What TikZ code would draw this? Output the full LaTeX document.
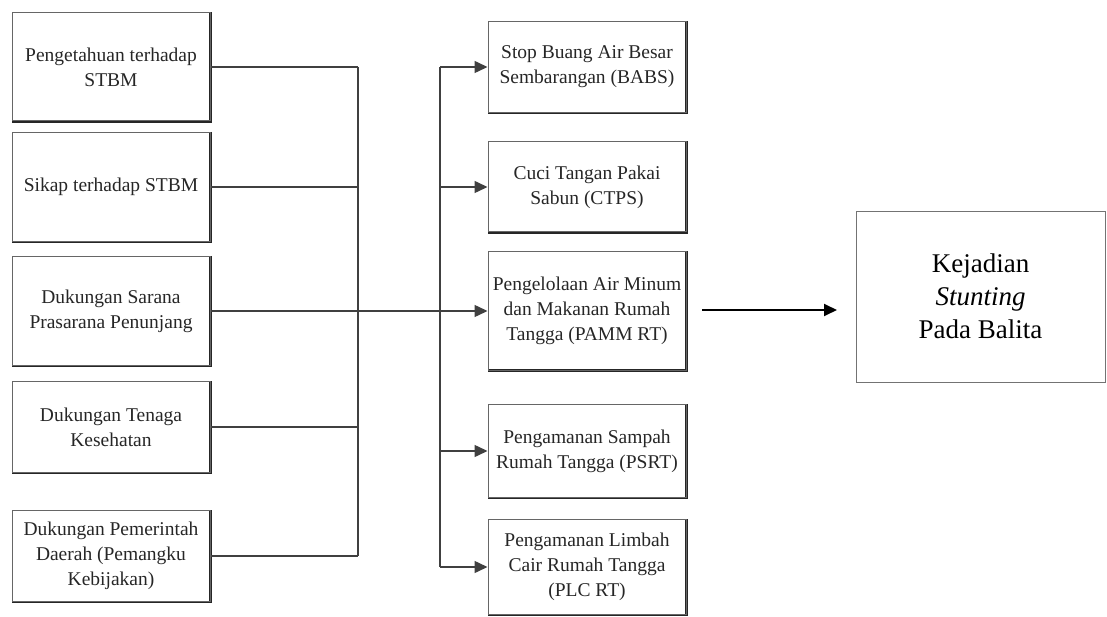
\documentclass[tikz,border=0pt]{standalone}
\usepackage{fontspec}
\setmainfont{Liberation Serif}
\usetikzlibrary{arrows.meta}

\tikzset{
  kotak/.style={draw=black!60, line width=1pt, minimum width=198pt, inner sep=0pt,
    align=center, text=black!85, font=\fontsize{19.5}{25}\selectfont,
    append after command={\pgfextra{\draw[line width=2.4pt, black!85]
      (\tikzlastnode.north east) -- (\tikzlastnode.south east) -- (\tikzlastnode.south west);}}},
  hasilbox/.style={draw=black!55, line width=0.9pt, inner sep=0pt, align=center,
    font=\fontsize{27}{33}\selectfont},
  garis/.style={line width=1.5pt, black!75},
  panah/.style={garis, -{Triangle[length=13pt,width=12pt]}}
}

\begin{document}
\begin{tikzpicture}[x=1pt, y=-1pt]
            \useasboundingbox (0,0) rectangle (1107,617);

            % Left column (factors)
            \node[kotak, minimum height=108pt] (p1) at (111,67) {Pengetahuan terhadap\\STBM};
            \node[kotak, minimum height=109pt] (p2) at (111,187) {Sikap terhadap STBM};
            \node[kotak, minimum height=109pt] (p3) at (111,311) {Dukungan Sarana\\Prasarana Penunjang};
            \node[kotak, minimum height=91pt] (p4) at (111,427) {Dukungan Tenaga\\Kesehatan};
            \node[kotak, minimum height=91pt] (p5) at (111,556) {Dukungan Pemerintah\\Daerah (Pemangku\\Kebijakan)};

            % Middle column (pillars)
            \node[kotak, minimum height=91pt] (s1) at (587,67) {Stop Buang Air Besar\\Sembarangan (BABS)};
            \node[kotak, minimum height=90pt] (s2) at (587,187) {Cuci Tangan Pakai\\Sabun (CTPS)};
            \node[kotak, minimum height=118pt] (s3) at (587,311) {Pengelolaan Air Minum\\dan Makanan Rumah\\Tangga (PAMM RT)};
            \node[kotak, minimum height=93pt] (s4) at (587,451) {Pengamanan Sampah\\Rumah Tangga (PSRT)};
            \node[kotak, minimum height=95pt] (s5) at (587,567) {Pengamanan Limbah\\Cair Rumah Tangga\\(PLC RT)};

            % Outcome
            \node[hasilbox, minimum width=249pt, minimum height=171pt] (hasil) at (980.5,296.5) {Kejadian\\\textit{Stunting}\\Pada Balita};

            % Bus lines
            \coordinate (kiri) at (358,0);
            \coordinate (kanan) at (440,0);

            \draw[garis] (p1.east) -- (p1.east -| kiri);
            \draw[garis] (p2.east) -- (p2.east -| kiri);
            \draw[garis] (p4.east) -- (p4.east -| kiri);
            \draw[garis] (p5.east) -- (p5.east -| kiri);
            \draw[garis] (p1.east -| kiri) -- (p5.east -| kiri);

            \draw[garis] (s1.west -| kanan) -- (s5.west -| kanan);
            \draw[panah] (s1.west -| kanan) -- (s1.west);
            \draw[panah] (s2.west -| kanan) -- (s2.west);
            \draw[panah] (p3.east) -- (s3.west);
            \draw[panah] (s4.west -| kanan) -- (s4.west);
            \draw[panah] (s5.west -| kanan) -- (s5.west);

            % Arrow to outcome
            \coordinate (a1) at (702,310);
            \coordinate (a2) at (837,310);
            \draw[line width=1.8pt, -{Triangle[length=13pt,width=12pt]}] (a1) -- (a2);
        \end{tikzpicture}
\end{document}
